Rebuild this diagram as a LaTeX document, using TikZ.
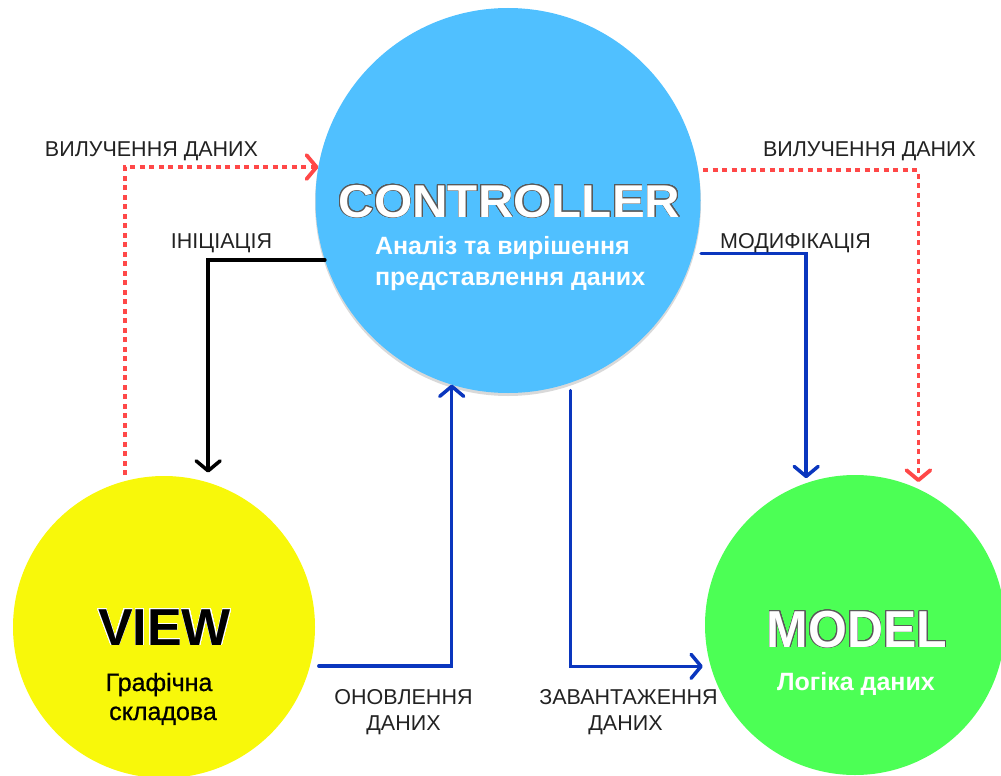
\documentclass[tikz,border=0pt]{standalone}
\usepackage{fontspec}
\setmainfont{Liberation Sans}
\newfontfamily\mediumsans[RawFeature={embolden=0.8}]{Liberation Sans}
\usepackage[copies]{contour}
\usetikzlibrary{arrows.meta}
\definecolor{ctrlblue}{HTML}{50C0FF}
\definecolor{viewyellow}{HTML}{F8F80A}
\definecolor{modelgreen}{HTML}{4CFF55}
\definecolor{flowblue}{HTML}{0A36BE}
\definecolor{pullred}{HTML}{FF4848}
\definecolor{labelgray}{HTML}{222222}
\definecolor{rimgray}{HTML}{5A5A5A}
\contourlength{0.7pt}
\contournumber{24}
\begin{document}
\begin{tikzpicture}[x=1pt,y=-1pt,
  hub/.style={circle, inner sep=0pt, outer sep=0pt, minimum size=#1},
  txt/.style={anchor=base, inner sep=0pt, outer sep=0pt},
  flowlabel/.style={txt, font=\fontsize{21.5}{25}\selectfont, text=labelgray},
  heading/.style={txt, font=\fontsize{#1}{#1}\selectfont\bfseries},
  subline/.style={txt, font=\fontsize{25}{28}\selectfont\bfseries, text=white},
  viewline/.style={txt, font=\mediumsans\fontsize{25}{28}\selectfont},
  barb/.style={-{Straight Barb[length=10pt,width=24pt,round]}},
  conn/.style={line width=3.5pt, line cap=round, line join=miter, barb},
  blueflow/.style={conn, flowblue},
  initflow/.style={conn, black},
  pullflow/.style={conn, pullred, line width=3.8pt, line cap=butt, dash pattern=on 5pt off 4.5pt},
]
\useasboundingbox (0,0) rectangle (1001,776);
\clip (0,0) rectangle (1001,776);

% soft shadow under the controller disc
\fill[black, opacity=0.15] (508,203) circle[radius=193];

% the three parts
\node[hub=385, fill=ctrlblue] (ctrl) at (508,200.5) {};
\node[hub=302, fill=viewyellow] (view) at (164,627) {};
\node[hub=300, fill=modelgreen] (model) at (855,625) {};

% titles and descriptions
\node[heading=46] (ctrltitle) at (509.5,217)
  {\scalebox{1.07}[1]{\contour{rimgray}{\textcolor{white}{CONTROLLER}}}};
\node[subline, anchor=base west] (ctrlsub1) at (375,254) {Аналіз та вирішення};
\node[subline, anchor=base west] (ctrlsub2) at (375,285) {представлення даних};

\node[heading=52] (viewtitle) at (164.5,645)
  {\contour{white}{\textcolor{black}{VIEW}}};
\node[viewline] (viewsub1) at (159,691) {Графічна};
\node[viewline] (viewsub2) at (163,720) {складова};

\node[heading=52] (modeltitle) at (857,647)
  {\scalebox{0.96}[1]{\contour{rimgray}{\textcolor{white}{MODEL}}}};
\node[subline] (modelsub) at (856,690) {Логіка даних};

% connectors
\draw[pullflow, shorten <=6pt] (view.105) |- (ctrl.170.3);
\draw[pullflow, shorten <=5pt, shorten >=7pt] (ctrl.9.7) -| (model.65.2);
\draw[initflow, shorten >=10pt] (ctrl.198) -| (view.73.1);
\draw[blueflow, shorten <=8pt, shorten >=5pt] (ctrl.-16.8) -| (model.109.5);
\draw[blueflow, shorten <=9pt] (view.-15.75) -| (ctrl.253.1);
\draw[blueflow, shorten <=8pt, shorten >=8pt] (ctrl.289.7) |- (model.196.7);

% connector labels
\node[flowlabel] (pullleft) at (151.5,156) {ВИЛУЧЕННЯ ДАНИХ};
\node[flowlabel] (pullright) at (869.5,156) {ВИЛУЧЕННЯ ДАНИХ};
\node[flowlabel] (initlabel) at (221.5,248) {ІНІЦІАЦІЯ};
\node[flowlabel] (modlabel) at (795.5,248) {МОДИФІКАЦІЯ};
\node[flowlabel] (updlabel1) at (403.5,704) {ОНОВЛЕННЯ};
\node[flowlabel] (updlabel2) at (403.5,730) {ДАНИХ};
\node[flowlabel] (loadlabel1) at (628.5,704) {ЗАВАНТАЖЕННЯ};
\node[flowlabel] (loadlabel2) at (625.5,730) {ДАНИХ};
\end{tikzpicture}
\end{document}
